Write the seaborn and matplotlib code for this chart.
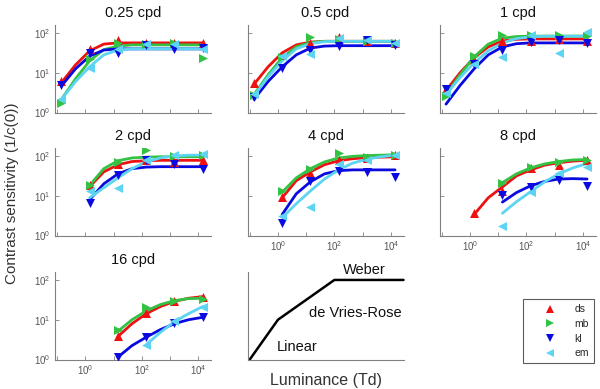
import numpy as np
import pandas as pd
import matplotlib
matplotlib.use("Agg")
import matplotlib.pyplot as plt
from matplotlib.lines import Line2D
from matplotlib.ticker import FixedLocator, NullFormatter
import seaborn as sns

sns.set_style("white")
plt.rcParams["font.family"] = ["Liberation Sans", "DejaVu Sans"]

# ---- data (log10 values) ----
OBSERVERS = ["ds", "mb", "kl", "em"]
COLORS = {"ds": "#ee1111", "mb": "#33c244", "kl": "#0a0ae0", "em": "#5cd4f2"}
MARKERS = {"ds": "^", "mb": ">", "kl": "v", "em": "<"}
PANELS = ["0.25 cpd", "0.5 cpd", "1 cpd", "2 cpd", "4 cpd", "8 cpd", "16 cpd"]

# retinal illuminance of the measurements, log10 Td
LOG_LUM = [-0.85, 0.15, 1.15, 2.15, 3.15, 4.15]
# x grid for the fitted curves, log10 Td
CURVE_LOG_LUM = [-0.85, -0.35, 0.15, 0.65, 1.15, 1.65, 2.15, 2.65, 3.15, 3.65, 4.15]

N = None
# measured log10 contrast sensitivity per panel, per observer
sens_025 = {"ds": [0.78, 1.6, 1.82, 1.75, 1.75, 1.75],
            "mb": [0.25, 1.35, 1.75, 1.72, 1.75, 1.37],
            "kl": [0.68, 1.5, 1.5, 1.7, 1.6, 1.62],
            "em": [0.35, 1.12, 1.6, 1.72, 1.72, 1.6]}
sens_05 = {"ds": [0.75, 1.45, 1.75, 1.9, 1.8, 1.75],
           "mb": [0.45, 1.4, 1.9, 1.85, 1.8, 1.75],
           "kl": [0.38, 1.12, 1.58, 1.68, 1.83, 1.7],
           "em": [0.46, 1.43, 1.46, 1.87, 1.83, 1.75]}
sens_1 = {"ds": [0.6, 1.33, 1.79, 1.79, 1.85, 1.8],
          "mb": [0.42, 1.42, 1.96, 1.96, 1.96, 1.93],
          "kl": [0.6, 1.21, 1.58, 1.77, 1.82, 1.75],
          "em": [0.5, 1.21, 1.4, 1.96, 1.5, 2.02]}
sens_2 = {"ds": [N, 1.28, 1.81, 1.89, 1.85, 1.89],
          "mb": [N, 1.28, 1.85, 2.14, 1.99, 2.02],
          "kl": [N, 0.82, 1.52, 1.91, 1.81, 1.66],
          "em": [N, 1.11, 1.19, 1.91, 2.02, 2.04]}
sens_4 = {"ds": [N, 0.97, 1.58, 1.91, 1.96, 2.02],
          "mb": [N, 1.11, 1.66, 2.07, 1.98, 2.03],
          "kl": [N, 0.31, 1.36, 1.63, 1.6, 1.46],
          "em": [N, 0.48, 0.72, 1.81, 1.89, 2.02]}
sens_8 = {"ds": [N, 0.56, 1.12, 1.69, 1.77, 1.89],
          "mb": [N, N, 1.33, 1.73, 1.85, 1.91],
          "kl": [N, N, 1.03, 1.23, 1.4, 1.25],
          "em": [N, N, 0.25, 1.09, 1.56, 1.73]}
sens_16 = {"ds": [N, N, 0.6, 1.18, 1.46, 1.58],
           "mb": [N, N, 0.73, 1.31, 1.48, 1.52],
           "kl": [N, N, 0.06, 0.56, 0.93, 1.06],
           "em": [N, N, N, 0.37, 0.98, 1.33]}

# fitted curves, log10 sensitivity at CURVE_LOG_LUM
fit_025 = {"ds": [0.75, 1.2, 1.55, 1.72, 1.75, 1.75, 1.75, 1.75, 1.75, 1.75, 1.75],
           "mb": [0.33, 0.85, 1.3, 1.58, 1.67, 1.7, 1.7, 1.7, 1.7, 1.7, 1.7],
           "kl": [0.67, 1.1, 1.42, 1.57, 1.6, 1.6, 1.6, 1.6, 1.6, 1.6, 1.6],
           "em": [0.33, 0.78, 1.15, 1.45, 1.57, 1.6, 1.6, 1.6, 1.6, 1.6, 1.6]}
fit_05 = {"ds": [0.71, 1.15, 1.5, 1.7, 1.77, 1.79, 1.79, 1.79, 1.79, 1.79, 1.79],
          "mb": [0.45, 0.95, 1.38, 1.65, 1.76, 1.79, 1.79, 1.79, 1.79, 1.79, 1.79],
          "kl": [0.33, 0.78, 1.15, 1.45, 1.62, 1.67, 1.68, 1.68, 1.68, 1.68, 1.68],
          "em": [0.42, 0.9, 1.3, 1.6, 1.73, 1.78, 1.79, 1.79, 1.79, 1.79, 1.79]}
fit_1 = {"ds": [0.55, 1.0, 1.38, 1.65, 1.8, 1.84, 1.85, 1.85, 1.85, 1.85, 1.85],
         "mb": [0.45, 0.95, 1.4, 1.72, 1.87, 1.91, 1.92, 1.92, 1.92, 1.92, 1.92],
         "kl": [0.21, 0.68, 1.1, 1.45, 1.65, 1.73, 1.75, 1.75, 1.75, 1.75, 1.75],
         "em": [0.45, 0.88, 1.25, 1.55, 1.75, 1.86, 1.9, 1.92, 1.92, 1.92, 1.92]}
fit_2 = {"ds": [N, N, 1.23, 1.6, 1.78, 1.86, 1.88, 1.89, 1.89, 1.89, 1.89],
         "mb": [N, N, 1.26, 1.68, 1.88, 1.95, 1.97, 1.98, 1.98, 1.98, 1.98],
         "kl": [N, N, 0.9, 1.3, 1.55, 1.68, 1.72, 1.73, 1.73, 1.73, 1.73],
         "em": [N, N, 0.95, 1.2, 1.45, 1.68, 1.85, 1.95, 2.0, 2.02, 2.02]}
fit_4 = {"ds": [N, N, 0.95, 1.38, 1.6, 1.78, 1.88, 1.93, 1.96, 1.97, 1.98],
         "mb": [N, N, 1.09, 1.45, 1.68, 1.85, 1.95, 1.99, 2.01, 2.02, 2.03],
         "kl": [N, N, 0.53, 1.05, 1.35, 1.55, 1.63, 1.65, 1.65, 1.65, 1.65],
         "em": [N, N, 0.45, 0.8, 1.12, 1.42, 1.65, 1.82, 1.92, 1.98, 2.02]}
fit_8 = {"ds": [N, N, 0.53, 0.95, 1.22, 1.5, 1.65, 1.77, 1.83, 1.87, 1.89],
         "mb": [N, N, N, N, 1.33, 1.55, 1.7, 1.8, 1.86, 1.9, 1.91],
         "kl": [N, N, N, N, 0.84, 1.08, 1.25, 1.36, 1.42, 1.43, 1.42],
         "em": [N, N, N, N, 0.56, 0.85, 1.1, 1.35, 1.55, 1.7, 1.81]}
fit_16 = {"ds": [N, N, N, N, 0.58, 0.9, 1.15, 1.33, 1.46, 1.54, 1.58],
          "mb": [N, N, N, N, 0.71, 1.0, 1.22, 1.38, 1.48, 1.53, 1.54],
          "kl": [N, N, N, N, 0.06, 0.35, 0.56, 0.75, 0.9, 1.0, 1.06],
          "em": [N, N, N, N, N, N, 0.37, 0.68, 0.95, 1.15, 1.33]}

SENS = [sens_025, sens_05, sens_1, sens_2, sens_4, sens_8, sens_16]
FITS = [fit_025, fit_05, fit_1, fit_2, fit_4, fit_8, fit_16]

# schematic: linear, de Vries-Rose, Weber regimes (log10 units)
SCHEM_X = [-1.0, 0.0, 2.0, 4.45]
SCHEM_Y = [0.0, 1.0, 2.0, 2.0]


def to_frame(table, logx):
    rows = []
    for obs in OBSERVERS:
        for lx, ly in zip(logx, table[obs]):
            if ly is not None:
                rows.append({"obs": obs, "lum": 10 ** lx, "sens": 10 ** ly})
    return pd.DataFrame(rows)


# ---- layout ----
W, H = 600, 389
fig = plt.figure(figsize=(6.0, 3.89), dpi=100)
col_left = [55, 247.5, 439.5]
row_top = [25, 148, 272]
ax_w, ax_h = 156, 87.5
XLIM = (10 ** -1.08, 10 ** 4.45)
YLIM = (1, 10 ** 2.2)
GRAY = "#808080"


def make_axes(r, c):
    x0 = col_left[c] / W
    y0 = 1 - (row_top[r] + ax_h) / H
    ax = fig.add_axes([x0, y0, ax_w / W, ax_h / H])
    ax.set_xscale("log")
    ax.set_yscale("log")
    ax.set_xlim(*XLIM)
    ax.set_ylim(*YLIM)
    for s in ["top", "right"]:
        ax.spines[s].set_visible(False)
    for s in ["left", "bottom"]:
        ax.spines[s].set_color(GRAY)
        ax.spines[s].set_linewidth(0.8)
    return ax


for i, name in enumerate(PANELS):
    r, c = divmod(i, 3)
    ax = make_axes(r, c)
    curves = to_frame(FITS[i], CURVE_LOG_LUM)
    points = to_frame(SENS[i], LOG_LUM)
    for obs in OBSERVERS:
        sns.lineplot(data=curves[curves.obs == obs], x="lum", y="sens",
                     color=COLORS[obs], lw=2.0, ax=ax, legend=False,
                     estimator=None, sort=True)
        sns.scatterplot(data=points[points.obs == obs], x="lum", y="sens",
                        color=COLORS[obs], marker=MARKERS[obs], s=42,
                        linewidth=0, ax=ax, legend=False, zorder=3)
    ax.set_xlabel("")
    ax.set_ylabel("")
    ax.set_title(name, fontsize=10.5, color="#111111", pad=6)

    ax.xaxis.set_major_locator(FixedLocator([1, 1e2, 1e4]))
    ax.xaxis.set_minor_locator(FixedLocator([1e-1, 1e1, 1e3]))
    ax.xaxis.set_minor_formatter(NullFormatter())
    ax.yaxis.set_major_locator(FixedLocator([1, 10, 100]))
    ax.yaxis.set_minor_locator(FixedLocator([]))
    ax.tick_params(which="both", direction="in", color=GRAY, width=0.6,
                   length=3, bottom=True, left=True, labelsize=7,
                   labelcolor="#555555", pad=3)
    show_x = (c == 0 and r == 2) or (c > 0 and r == 1)
    if not show_x:
        ax.set_xticklabels([])
    if c != 0:
        ax.set_yticklabels([])

# schematic panel
ax = make_axes(2, 1)
ax.plot(10 ** np.array(SCHEM_X), 10 ** np.array(SCHEM_Y), color="black", lw=1.8,
        clip_on=False)
ax.set_xticks([])
ax.set_yticks([])
ax.minorticks_off()
ax.text(0.75, 0.94, "Weber", transform=ax.transAxes, ha="center", va="bottom",
        fontsize=10.5, color="#111111")
ax.text(0.69, 0.53, "de Vries-Rose", transform=ax.transAxes, ha="center",
        va="center", fontsize=10.5, color="#111111")
ax.text(0.32, 0.14, "Linear", transform=ax.transAxes, ha="center", va="center",
        fontsize=10.5, color="#111111")

# legend
handles = [Line2D([], [], ls="none", marker=MARKERS[o], color=COLORS[o],
                  markersize=6, markeredgewidth=0, label=o) for o in OBSERVERS]
leg = fig.legend(handles=handles, loc="upper left",
                 bbox_to_anchor=(523 / W, 1 - 299 / H), fontsize=7.5,
                 frameon=True, fancybox=False, handlelength=4.2,
                 handletextpad=0.25, labelspacing=0.45, borderpad=0.5,
                 borderaxespad=0)
leg.get_frame().set_edgecolor("#333333")
leg.get_frame().set_linewidth(0.8)

fig.text(12 / W, 1 - 193 / H, "Contrast sensitivity (1/c(0))", rotation=90,
         ha="center", va="center", fontsize=11, color="#333333")
fig.text(326 / W, 1 - 381 / H, "Luminance (Td)", ha="center", va="center",
         fontsize=11.5, color="#333333")

fig.savefig("out.png", dpi=100)
